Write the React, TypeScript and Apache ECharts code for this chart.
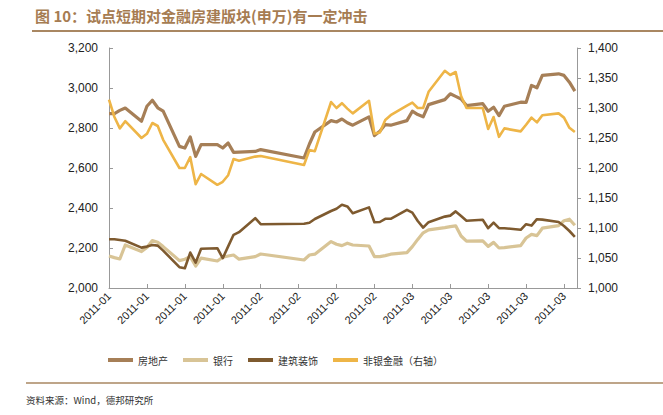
import React, { useEffect, useRef } from "react";
import * as echarts from "echarts";

const TITLE = "图 10：试点短期对金融房建版块(申万)有一定冲击";
const SOURCE = "资料来源：Wind，德邦研究所";
const SERIES_NAMES = ["房地产", "银行", "建筑装饰", "非银金融（右轴）"];
const COLORS = ["#A67F57", "#D8C496", "#7E5A2F", "#EEB547"];

const dates = [
  "2011-01-04", "2011-01-05", "2011-01-06", "2011-01-07", "2011-01-10", "2011-01-11", "2011-01-12",
  "2011-01-13", "2011-01-14", "2011-01-17", "2011-01-18", "2011-01-19", "2011-01-20", "2011-01-21",
  "2011-01-24", "2011-01-25", "2011-01-26", "2011-01-27", "2011-01-28", "2011-01-31", "2011-02-01",
  "2011-02-09", "2011-02-10", "2011-02-11", "2011-02-14", "2011-02-15", "2011-02-16", "2011-02-17",
  "2011-02-18", "2011-02-21", "2011-02-22", "2011-02-23", "2011-02-24", "2011-02-25", "2011-02-28",
  "2011-03-01", "2011-03-02", "2011-03-03", "2011-03-04", "2011-03-07", "2011-03-08", "2011-03-09",
  "2011-03-10", "2011-03-11", "2011-03-14", "2011-03-15", "2011-03-16", "2011-03-17", "2011-03-18",
  "2011-03-21", "2011-03-22", "2011-03-23", "2011-03-24", "2011-03-25", "2011-03-28", "2011-03-29",
  "2011-03-30", "2011-03-31",
];

const realEstate = [
  2872, 2872, 2888, 2900, 2834, 2909, 2939, 2901, 2884, 2708, 2700, 2755, 2658, 2717, 2717, 2700, 2725, 2678, 2679, 2683,
  2692, 2650, 2720, 2780, 2837, 2830, 2845, 2826, 2814, 2856, 2762, 2784, 2817, 2814, 2837,
  2884, 2867, 2856, 2917, 2942, 2971, 2958, 2945, 2912, 2922, 2884, 2904, 2862, 2909, 2929, 2928, 3013, 3001, 3063, 3071, 3063, 3029, 2984,
];

const banks = [
  2160, 2152, 2145, 2215, 2182, 2203, 2237, 2229, 2207, 2137, 2144, 2157, 2110, 2149, 2135, 2154, 2160, 2165, 2144, 2157,
  2170, 2140, 2165, 2169, 2232, 2219, 2212, 2224, 2215, 2210, 2157, 2157, 2162, 2169, 2177,
  2207, 2243, 2276, 2291, 2302, 2307, 2311, 2260, 2234, 2236, 2208, 2228, 2200, 2202, 2212, 2250, 2268, 2262, 2299, 2312, 2336, 2344, 2314,
];

const construction = [
  2244, 2244, 2240, 2236, 2202, 2207, 2215, 2212, 2187, 2104, 2099, 2177, 2127, 2196, 2199, 2149, 2208, 2266, 2279, 2349,
  2319, 2321, 2326, 2345, 2385, 2396, 2416, 2408, 2374, 2403, 2329, 2330, 2346, 2346, 2391,
  2377, 2335, 2302, 2329, 2357, 2362, 2383, 2360, 2336, 2341, 2299, 2327, 2299, 2299, 2291, 2319, 2312, 2344, 2342, 2330, 2310, 2285, 2256,
];

const nonBankFin = [
  1314, 1285, 1266, 1278, 1250, 1257, 1275, 1270, 1247, 1200, 1200, 1218, 1173, 1190, 1172, 1177, 1188, 1215, 1212, 1219,
  1220, 1205, 1230, 1228, 1310, 1300, 1308, 1299, 1291, 1312, 1257, 1259, 1280, 1288, 1304,
  1309, 1300, 1300, 1327, 1362, 1355, 1360, 1320, 1300, 1300, 1265, 1285, 1252, 1266, 1261, 1272, 1284, 1276, 1288, 1291, 1284, 1267, 1260,
];

const START = Date.UTC(2011, 0, 4);
const DAY = 86400000;
const toDay = (s: string) =>
  (Date.UTC(+s.slice(0, 4), +s.slice(5, 7) - 1, +s.slice(8, 10)) - START) / DAY;
const dayLabel = (v: number) => {
  const d = new Date(START + Math.round(v) * DAY);
  return `${d.getUTCFullYear()}-${String(d.getUTCMonth() + 1).padStart(2, "0")}`;
};
const pairs = (vals: number[]) => dates.map((d, i) => [toDay(d), vals[i]]);
const fmt = (v: number) => v.toLocaleString("en-US");

const FONT = "'Liberation Sans', Arial, sans-serif";
const CJK = "'Noto Sans CJK SC', sans-serif";

export default function App() {
  const ref = useRef<HTMLDivElement>(null);
  useEffect(() => {
    if (!ref.current) return;
    const chart = echarts.init(ref.current, undefined, { renderer: "svg" });
    const seriesVals = [realEstate, banks, construction, nonBankFin];
    const widths = [3.2, 3.2, 2.6, 2.6];
    chart.setOption({
      animation: false,
      backgroundColor: "#ffffff",
      grid: { left: 109, right: 86, top: 48, bottom: 127, containLabel: false },
      legend: {
        data: SERIES_NAMES,
        left: 108,
        top: 355,
        padding: 0,
        itemWidth: 25,
        itemHeight: 4,
        itemGap: 15,
        icon: "rect",
        textStyle: { fontSize: 10, color: "#333", fontFamily: CJK },
      },
      xAxis: {
        type: "value",
        min: 0,
        max: 86.4,
        interval: 7,
        splitLine: { show: false },
        axisLine: { lineStyle: { color: "#999", width: 1 } },
        axisTick: { inside: true, length: 4, lineStyle: { color: "#999" } },
        axisLabel: {
          rotate: 45,
          showMaxLabel: false,
          formatter: dayLabel,
          fontSize: 11,
          color: "#222",
          fontFamily: FONT,
          margin: 6,
        },
      },
      yAxis: [
        {
          type: "value",
          min: 2000,
          max: 3200,
          interval: 200,
          splitLine: { show: false },
          axisLine: { show: true, lineStyle: { color: "#999" } },
          axisTick: { show: true, inside: true, length: 4, lineStyle: { color: "#999" } },
          axisLabel: { formatter: fmt, fontSize: 12, color: "#222", fontFamily: FONT, margin: 11 },
        },
        {
          type: "value",
          min: 1000,
          max: 1400,
          interval: 50,
          position: "right",
          splitLine: { show: false },
          axisLine: { show: true, lineStyle: { color: "#999" } },
          axisTick: { show: true, length: 4, lineStyle: { color: "#999" } },
          axisLabel: { formatter: fmt, fontSize: 12, color: "#222", fontFamily: FONT, margin: 11 },
        },
      ],
      series: SERIES_NAMES.map((name, i) => ({
        name,
        type: "line",
        yAxisIndex: i === 3 ? 1 : 0,
        data: pairs(seriesVals[i]),
        showSymbol: false,
        symbol: "none",
        color: COLORS[i],
        lineStyle: { color: COLORS[i], width: widths[i], join: "round" },
        z: [3, 2, 4, 5][i],
      })),
      graphic: [
        {
          type: "text",
          left: 35,
          top: 8,
          style: {
            text: TITLE,
            fill: "#A67C52",
            font: `bold 15px ${CJK}`,
          },
        },
        {
          type: "line",
          shape: { x1: 32, y1: 31, x2: 663, y2: 31 },
          style: { stroke: "#A98762", lineWidth: 2 },
        },
        {
          type: "line",
          shape: { x1: 26, y1: 383, x2: 663, y2: 383 },
          style: { stroke: "#A98762", lineWidth: 1.5 },
        },
        {
          type: "text",
          left: 26,
          top: 395,
          style: { text: SOURCE, fill: "#333", font: `9.5px ${CJK}` },
        },
      ],
    });
    return () => chart.dispose();
  }, []);
  return (
    <div
      ref={ref}
      style={{ position: "fixed", left: 0, top: 0, width: 663, height: 415, background: "#fff" }}
    />
  );
}
